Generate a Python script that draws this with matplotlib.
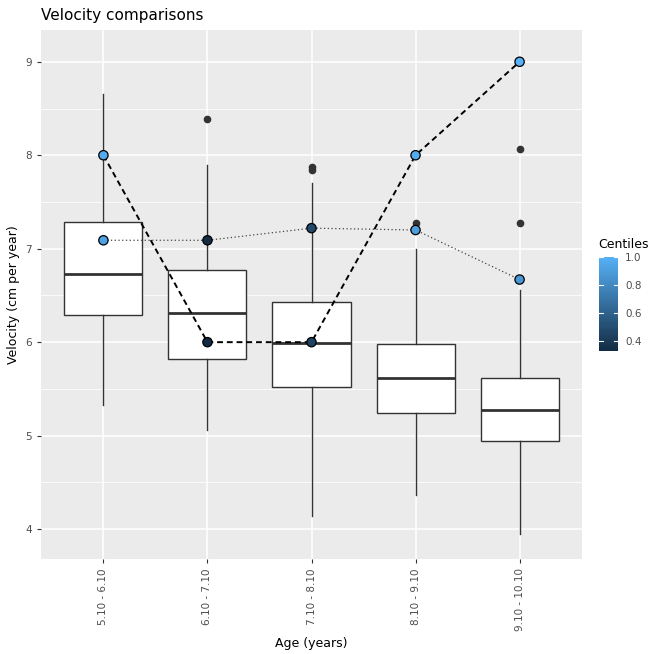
import numpy as np
import matplotlib.pyplot as plt
from matplotlib.colors import LinearSegmentedColormap, Normalize
from matplotlib.cm import ScalarMappable

# data
ages = ["5.10 - 6.10", "6.10 - 7.10", "7.10 - 8.10", "8.10 - 9.10", "9.10 - 10.10"]
q1 = [6.29, 5.82, 5.52, 5.24, 4.94]
med = [6.73, 6.31, 5.99, 5.62, 5.27]
q3 = [7.29, 6.77, 6.43, 5.98, 5.62]
whis_lo = [5.33, 5.06, 4.14, 4.36, 3.95]
whis_hi = [8.65, 7.90, 7.70, 7.00, 6.56]
outliers = [[], [8.39], [7.84, 7.87], [7.28], [7.27, 8.07]]

child_a = [8.0, 6.0, 6.0, 8.0, 9.0]
child_a_cent = [0.97, 0.33, 0.45, 0.97, 1.0]
child_b = [7.09, 7.09, 7.22, 7.20, 6.67]
child_b_cent = [0.92, 0.34, 0.48, 0.90, 0.87]

cmap = LinearSegmentedColormap.from_list("gg", ["#132B43", "#56B1F7"])
norm = Normalize(vmin=0.33, vmax=1.0)

W, H = 660, 654
fig = plt.figure(figsize=(W / 100, H / 100), dpi=100)
ax = fig.add_axes([41 / W, 1 - 559 / H, (582 - 41) / W, (559 - 30) / H])
ax.set_facecolor("#EBEBEB")

x = np.arange(1, len(ages) + 1)
ax.set_xlim(0.4, 5.6)
ax.set_ylim(3.68, 9.34)

# grid
for yv in np.arange(3.5, 9.6, 0.5):
    major = abs(yv - round(yv)) < 1e-6
    ax.axhline(yv, color="white", lw=1.1 if major else 0.55, zorder=0)
for xv in x:
    ax.axvline(xv, color="white", lw=1.1, zorder=0)

stats = []
for i in range(len(ages)):
    stats.append(dict(med=med[i], q1=q1[i], q3=q3[i], whislo=whis_lo[i],
                      whishi=whis_hi[i], fliers=outliers[i]))
ax.bxp(stats, positions=x, widths=0.75, patch_artist=True, showcaps=False,
       boxprops=dict(facecolor="white", edgecolor="#333333", lw=1.0),
       whiskerprops=dict(color="#333333", lw=1.0),
       medianprops=dict(color="#333333", lw=2.0),
       flierprops=dict(marker="o", markerfacecolor="#333333", markeredgecolor="#333333",
                       markersize=4.5),
       zorder=2)

ax.plot(x, child_a, ls=(0, (3, 2)), color="black", lw=1.4, zorder=3)
ax.plot(x, child_b, ls=(0, (1, 2)), color="#444444", lw=0.9, zorder=3)
ax.scatter(x, child_a, c=child_a_cent, cmap=cmap, norm=norm, s=45,
           edgecolors="black", linewidths=0.9, zorder=4)
ax.scatter(x, child_b, c=child_b_cent, cmap=cmap, norm=norm, s=45,
           edgecolors="black", linewidths=0.9, zorder=4)

ax.set_xticks(x)
ax.set_xticklabels(ages, rotation=90, fontsize=7.5, color="#4D4D4D")
ax.set_yticks([4, 5, 6, 7, 8, 9])
ax.set_yticklabels(["4", "5", "6", "7", "8", "9"], fontsize=7.5, color="#4D4D4D")
ax.tick_params(length=3, color="#333333", width=0.8)
for s in ax.spines.values():
    s.set_visible(False)

ax.set_xlabel("Age (years)", fontsize=9)
ax.set_ylabel("Velocity (cm per year)", fontsize=9)
ax.set_title("Velocity comparisons", fontsize=11, loc="left", pad=7)

# colour bar
cax = fig.add_axes([599 / W, 1 - 351 / H, 19 / W, 94 / H])
cb = fig.colorbar(ScalarMappable(norm=norm, cmap=cmap), cax=cax)
cb.outline.set_visible(False)
cb.set_ticks([0.4, 0.6, 0.8, 1.0])
cb.set_ticklabels(["0.4", "0.6", "0.8", "1.0"])
cax.tick_params(length=0, labelsize=7.5, labelcolor="#4D4D4D", pad=5)
for t in [0.4, 0.6, 0.8, 1.0]:
    cax.plot([0, 0.2], [t, t], color="white", lw=0.8)
    cax.plot([0.8, 1.0], [t, t], color="white", lw=0.8)
cax.set_xlim(0, 1)
fig.text(598 / W, 1 - 245 / H, "Centiles", fontsize=9, va="center", ha="left")

fig.savefig("out.png", dpi=100)
